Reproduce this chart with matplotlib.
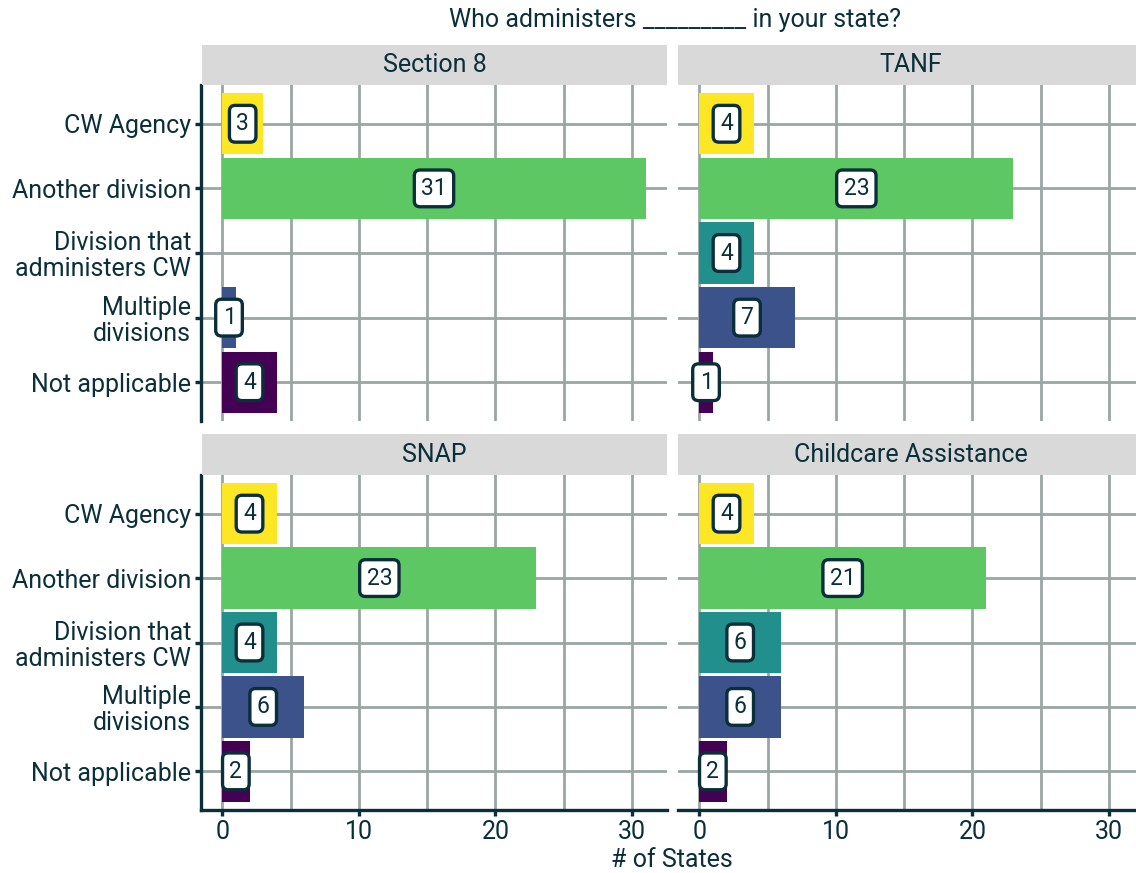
import numpy as np
import matplotlib.pyplot as plt

plt.rcParams['font.family'] = ['Roboto', 'DejaVu Sans']

# data
categories = ['CW Agency', 'Another division', 'Division that\nadministers CW',
              'Multiple\ndivisions', 'Not applicable']
bar_colors = ['#FDE725', '#5DC863', '#21908C', '#3B528B', '#440154']
programs = ['Section 8', 'TANF', 'SNAP', 'Childcare Assistance']
section8 = [3, 31, np.nan, 1, 4]
tanf = [4, 23, 4, 7, 1]
snap = [4, 23, 4, 6, 2]
childcare = [4, 21, 6, 6, 2]
x_ticks = [0, 10, 20, 30]

values = [section8, tanf, snap, childcare]

text_color = '#0B2F3A'
grid_color = '#9AA6A3'
strip_color = '#D9D9D9'
fs = 18

W, H = 1136, 873
fig = plt.figure(figsize=(W / 100, H / 100), dpi=100)

# panel boxes in pixels: (left, top, width, height)
panels = [(201, 85, 466, 336), (678, 85, 466, 336),
          (201, 475, 466, 335), (678, 475, 466, 335)]
strips = [(202, 45, 465, 40), (678, 45, 465, 40),
          (202, 434, 465, 41), (678, 434, 465, 41)]

ypos = np.arange(len(categories))[::-1]
xmax = np.nanmax(values)
pad = 0.05 * xmax

for i, (prog, vals) in enumerate(zip(programs, values)):
    l, t, w, h = panels[i]
    ax = fig.add_axes([l / W, 1 - (t + h) / H, w / W, h / H])
    row, col = divmod(i, 2)

    ax.barh(ypos, vals, height=0.95, color=bar_colors, zorder=3)
    for y, v in zip(ypos, vals):
        if np.isnan(v):
            continue
        ax.text(v / 2, y, f'{int(v)}', ha='center', va='center',
                fontsize=16.5, color=text_color, zorder=4,
                bbox=dict(boxstyle='round,pad=0.3,rounding_size=0.25',
                          fc='white', ec=text_color, lw=2.4))

    ax.set_xlim(-pad, xmax + pad)
    ax.set_ylim(-0.6, len(categories) - 0.4)
    ax.set_xticks(x_ticks)
    ax.set_xticks([5, 15, 25], minor=True)
    ax.set_yticks(ypos)
    ax.grid(True, which='both', color=grid_color, lw=2, zorder=0)
    ax.set_axisbelow(True)
    for s in ax.spines.values():
        s.set_visible(False)
    ax.tick_params(which='minor', length=0)

    if col == 0:
        ax.spines['left'].set_visible(True)
        ax.spines['left'].set_color(text_color)
        ax.spines['left'].set_linewidth(2.4)
        ax.set_yticklabels(categories, fontsize=fs, color=text_color,
                           linespacing=1.08)
        ax.tick_params(axis='y', length=4, width=2.4, color=text_color, pad=3)
    else:
        ax.set_yticklabels([])
        ax.tick_params(axis='y', length=0)

    if row == 1:
        ax.spines['bottom'].set_visible(True)
        ax.spines['bottom'].set_color(text_color)
        ax.spines['bottom'].set_linewidth(2.4)
        ax.set_xticklabels([str(x) for x in x_ticks], fontsize=fs, color=text_color)
        ax.tick_params(axis='x', which='major', length=4, width=2.4,
                       color=text_color, pad=3)
    else:
        ax.set_xticklabels([])
        ax.tick_params(axis='x', length=0)

    sl, st, sw, sh = strips[i]
    fig.patches.append(plt.Rectangle((sl / W, 1 - (st + sh) / H), sw / W, sh / H,
                                     transform=fig.transFigure, fc=strip_color,
                                     ec='none', zorder=0))
    fig.text((sl + sw / 2) / W, 1 - (st + sh / 2) / H, prog, ha='center',
             va='center', fontsize=fs, color=text_color)

fig.text(675 / W, 1 - 20 / H, 'Who administers _________ in your state?',
         ha='center', va='center', fontsize=fs, color=text_color)
fig.text(672 / W, 1 - 860 / H, '# of States', ha='center', va='center',
         fontsize=fs, color=text_color)

fig.savefig('out.png', dpi=100, facecolor='white')
